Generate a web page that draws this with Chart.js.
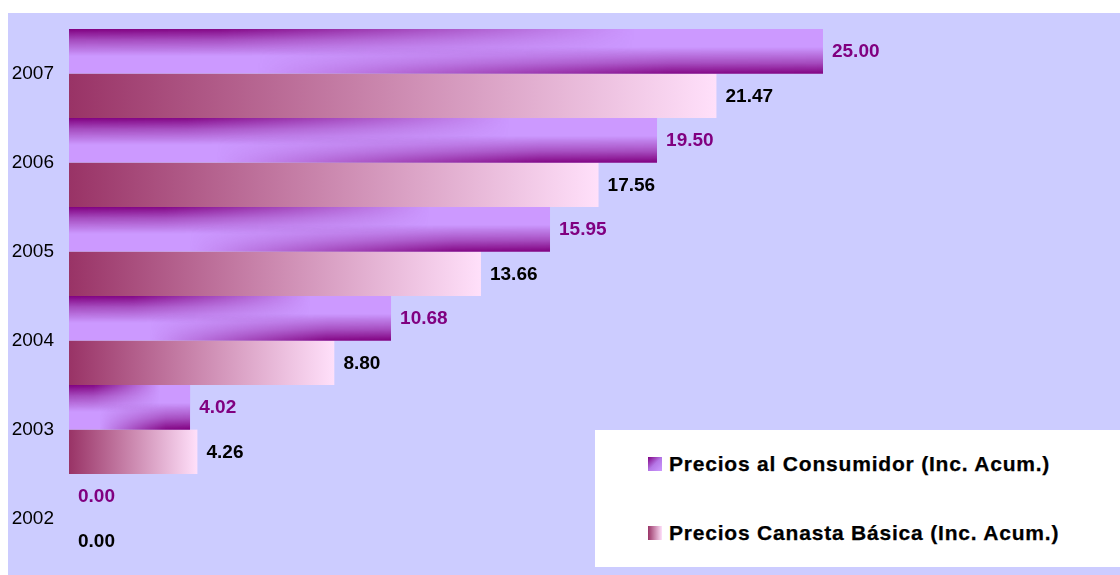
<!DOCTYPE html>
<html>
<head>
<meta charset="utf-8">
<script src="https://cdn.jsdelivr.net/npm/chart.js@4.4.1/dist/chart.umd.min.js"></script>
<style>
  html, body { margin: 0; padding: 0; background: #fff; }
  #wrap { position: relative; width: 1120px; height: 575px; }
  #grafico { position: absolute; left: 0; top: 0; }
  #leyenda {
    position: absolute; left: 595px; top: 430px; width: 525px; height: 137px;
    background: #fff;
    font-family: "Liberation Sans", Arial, sans-serif; font-weight: bold;
    font-size: 21px; letter-spacing: 0.8px; color: #000;
    -webkit-text-stroke: 0.25px #000;
  }
  .item { position: absolute; left: 53px; height: 24px; line-height: 24px; white-space: nowrap; }
  .item .marca { position: absolute; left: 0; top: 5px; width: 14px; height: 14px; }
  .item span.txt { position: absolute; left: 21px; top: 0; }
</style>
</head>
<body>
<div id="wrap">
  <canvas id="grafico" width="1120" height="575"></canvas>
  <div id="leyenda">
    <div class="item" style="top: 22px;">
      <div class="marca" style="background: linear-gradient(135deg, #800080 0%, #b477e6 50%, #cc99ff 100%);"></div>
      <span class="txt">Precios al Consumidor (Inc. Acum.)</span>
    </div>
    <div class="item" style="top: 91px;">
      <div class="marca" style="background: linear-gradient(90deg, #993366 0%, #ffe0fa 100%);"></div>
      <span class="txt">Precios Canasta Básica (Inc. Acum.)</span>
    </div>
  </div>
</div>
<script>
// Datos
const anios = ["2007", "2006", "2005", "2004", "2003", "2002"];
const preciosConsumidor = [25.00, 19.50, 15.95, 10.68, 4.02, 0.00];
const preciosCanasta = [21.47, 17.56, 13.66, 8.80, 4.26, 0.00];

const etiquetasSerie = ["Precios al Consumidor (Inc. Acum.)", "Precios Canasta Básica (Inc. Acum.)"];
const coloresValor = ["#800080", "#000000"];
const fuente = '"Liberation Sans", Arial, sans-serif';

// Degradado de la barra morada: oscuro arriba a la izquierda, oscuro abajo a la derecha
function pintarConsumidor(octx, x0, y0, w, h) {
  octx.fillStyle = "#cc99ff";
  octx.fillRect(x0, y0, w, h);
  const tw = Math.max(1, Math.ceil(w)), th = Math.max(1, Math.ceil(h));
  const capas = [
    { v: [[0, 1], [0.25, 0.5], [0.6, 0]], hz: [[0, 1], [0.2, 0.95], [0.75, 0]] },
    { v: [[0.4, 0], [0.75, 0.5], [1, 1]], hz: [[0.25, 0], [0.8, 0.95], [1, 1]] }
  ];
  capas.forEach(c => {
    const t = document.createElement("canvas");
    t.width = tw; t.height = th;
    const tctx = t.getContext("2d");
    const gv = tctx.createLinearGradient(0, 0, 0, th);
    c.v.forEach(([p, a]) => gv.addColorStop(p, `rgba(128,0,128,${a})`));
    tctx.fillStyle = gv;
    tctx.fillRect(0, 0, tw, th);
    tctx.globalCompositeOperation = "destination-in";
    const gh = tctx.createLinearGradient(0, 0, tw, 0);
    c.hz.forEach(([p, a]) => gh.addColorStop(p, `rgba(0,0,0,${a})`));
    tctx.fillStyle = gh;
    tctx.fillRect(0, 0, tw, th);
    octx.drawImage(t, x0, y0, w, h);
  });
}

function pintarCanasta(octx, x0, y0, w, h) {
  const g = octx.createLinearGradient(x0, 0, x0 + w, 0);
  g.addColorStop(0, "#993366");
  g.addColorStop(1, "#ffe0fa");
  octx.fillStyle = g;
  octx.fillRect(x0, y0, w, h);
}

const fondoPlugin = {
  id: "fondo",
  beforeDraw(chart) {
    const ctx = chart.ctx;
    ctx.save();
    ctx.fillStyle = "#ffffff";
    ctx.fillRect(0, 0, chart.width, chart.height);
    ctx.fillStyle = "#ccccff";
    ctx.fillRect(8, 13, chart.width - 8, chart.height - 13);
    ctx.restore();
  }
};

const degradadoPlugin = {
  id: "degradado",
  beforeDatasetsDraw(chart) {
    chart.data.datasets.forEach((ds, di) => {
      const meta = chart.getDatasetMeta(di);
      const off = document.createElement("canvas");
      off.width = chart.width; off.height = chart.height;
      const octx = off.getContext("2d");
      meta.data.forEach(bar => {
        const p = bar.getProps(["x", "y", "base", "height"], true);
        const x0 = Math.min(p.base, p.x), w = Math.abs(p.x - p.base), y0 = p.y - p.height / 2;
        if (w < 0.5) return;
        if (di === 0) pintarConsumidor(octx, x0, y0, w, p.height);
        else pintarCanasta(octx, x0, y0, w, p.height);
      });
      const patron = chart.ctx.createPattern(off, "no-repeat");
      meta.data.forEach(bar => {
        bar.options = Object.assign({}, bar.options, { backgroundColor: patron });
      });
    });
  }
};

const valoresPlugin = {
  id: "valores",
  afterDatasetsDraw(chart) {
    const ctx = chart.ctx;
    ctx.save();
    ctx.font = `bold 19px ${fuente}`;
    ctx.textAlign = "left";
    ctx.textBaseline = "middle";
    chart.data.datasets.forEach((ds, di) => {
      const meta = chart.getDatasetMeta(di);
      ctx.fillStyle = coloresValor[di];
      meta.data.forEach((bar, i) => {
        ctx.fillText(ds.data[i].toFixed(2), bar.x + 9, bar.y + 1);
      });
    });
    ctx.restore();
  }
};

new Chart(document.getElementById("grafico").getContext("2d"), {
  type: "bar",
  data: {
    labels: anios,
    datasets: [
      { label: etiquetasSerie[0], data: preciosConsumidor, backgroundColor: () => "#cc99ff", borderWidth: 0 },
      { label: etiquetasSerie[1], data: preciosCanasta, backgroundColor: () => "#e6a0c8", borderWidth: 0 }
    ]
  },
  options: {
    indexAxis: "y",
    responsive: false,
    animation: false,
    events: [],
    layout: { padding: { top: 29, bottom: 12, left: 0, right: 25.6 } },
    datasets: { bar: { categoryPercentage: 1, barPercentage: 1 } },
    plugins: { legend: { display: false }, tooltip: { enabled: false } },
    scales: {
      x: { display: false, min: 0, max: 34 },
      y: {
        grid: { display: false, drawTicks: false },
        border: { display: false },
        ticks: { color: "#000", font: { family: fuente, size: 19 }, padding: 15 },
        afterFit(s) {
          s.width = 69;
          s.paddingTop = 0; s.paddingBottom = 0; s.paddingLeft = 0; s.paddingRight = 0;
        }
      }
    }
  },
  plugins: [fondoPlugin, degradadoPlugin, valoresPlugin]
});
</script>
</body>
</html>
